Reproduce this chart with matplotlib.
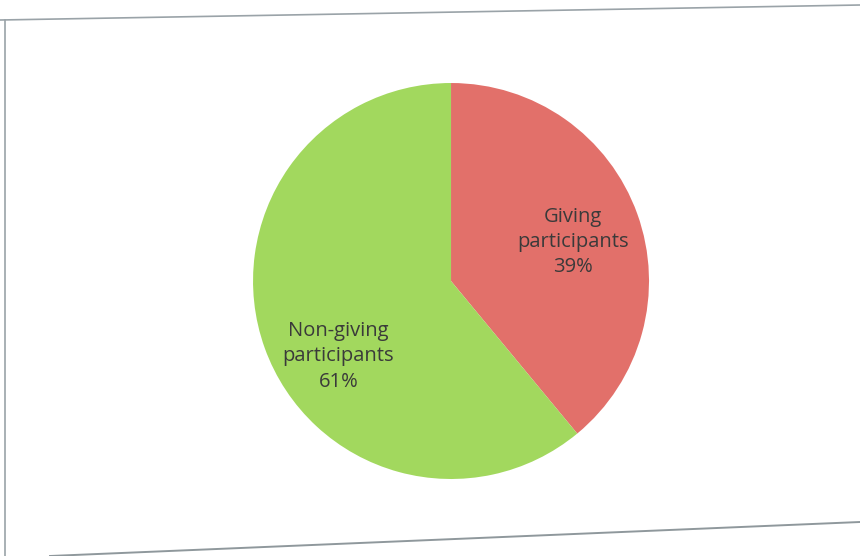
import numpy as np
import matplotlib.pyplot as plt
from matplotlib.lines import Line2D

labels = ["Giving\nparticipants", "Non-giving\nparticipants"]
values = [39, 61]
colors = ["#E2706A", "#A2D85E"]

fig = plt.figure(figsize=(8.6, 5.56), dpi=100)
fig.patch.set_facecolor("white")

# outer frame, slightly skewed like the photographed page
fig.add_artist(Line2D([0.0, 1.0], [1 - 20 / 556, 1 - 5 / 556], color="#9aa3a8", lw=1.2, transform=fig.transFigure))
fig.add_artist(Line2D([5 / 860, 5 / 860], [1 - 20 / 556, 0.0], color="#9aa3a8", lw=1.2, transform=fig.transFigure))
fig.add_artist(Line2D([50 / 860, 1.0], [0.0, 1 - 522 / 556], color="#8f989c", lw=1.4, transform=fig.transFigure))

ax = fig.add_axes([0.2942, 0.1385, 0.4605, 0.7122])
wedges, _ = ax.pie(values, colors=colors, startangle=90, counterclock=False,
                   wedgeprops=dict(linewidth=0))
ax.set_xlim(-1, 1)
ax.set_ylim(-1, 1)

# label positions (angle offset, radius) for each slice
offsets = [(-2, 0.645), (14, 0.685)]
for w, lab, v, (da, r) in zip(wedges, labels, values, offsets):
    ang = np.deg2rad((w.theta1 + w.theta2) / 2 + da)
    ax.text(r * np.cos(ang), r * np.sin(ang), f"{lab}\n{v}%", ha="center", va="center",
            fontsize=14.5, family="Open Sans", color="#3a3a3a", linespacing=1.35)

fig.savefig("out.png", dpi=100)
